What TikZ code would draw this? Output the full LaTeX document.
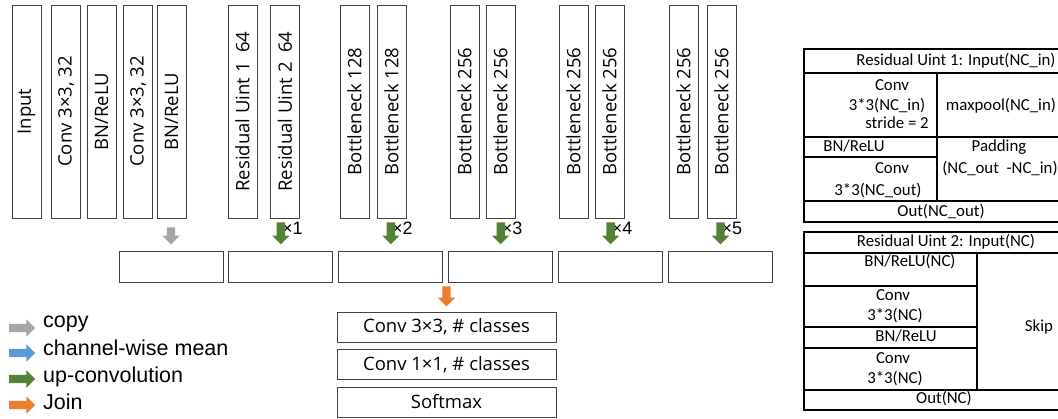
\documentclass[tikz,border=0pt]{standalone}
\usepackage{fontspec}
\setmainfont{Open Sans}
\newfontfamily\tabfont{Carlito}
\newfontfamily\lgdfont{Liberation Sans}
\usetikzlibrary{shapes.arrows,positioning,calc}
\definecolor{edge}{HTML}{404040}
\definecolor{cpgray}{HTML}{A6A6A6}
\definecolor{cwblue}{HTML}{5B9BD5}
\definecolor{upgreen}{HTML}{548235}
\definecolor{jnorange}{HTML}{ED7D31}
\tikzset{
  vbox/.style={rectangle,draw=edge,line width=0.9pt,fill=white,rotate=90,
               minimum width=213pt,minimum height=29pt,inner sep=0pt,
               font=\fontsize{18.5}{20}\selectfont},
  fbox/.style={rectangle,draw=edge,line width=0.9pt,
               minimum width=104pt,minimum height=31pt,inner sep=0pt},
  hbox/.style={rectangle,draw=edge,line width=0.9pt,
               minimum width=219pt,minimum height=30pt,inner sep=0pt,
               font=\fontsize{18.5}{20}\selectfont},
  blkarr/.style={single arrow,fill=#1,draw=none,inner xsep=0pt,inner ysep=4pt,
                 single arrow head extend=4.5pt},
  tline/.style={line width=1.3pt,draw=black},
  tcell/.style={font=\tabfont\fontsize{16.8}{19}\selectfont,inner sep=0pt,
                text height=11pt,text depth=3.5pt},
  lgd/.style={font=\lgdfont\fontsize{21.5}{24}\selectfont,anchor=base west,
              inner sep=0pt},
  rep/.style={font=\lgdfont\fontsize{18}{20}\selectfont,anchor=west,
              inner sep=0pt},
}

\begin{document}
\begin{tikzpicture}[x=1pt,y=1pt,node distance=6.6pt and 5pt]
  \useasboundingbox (0,0) rectangle (1058,418);
  \clip (0,0) rectangle (1058,418);

  % encoder columns
  \foreach \n/\x/\t in {inp/26.5/Input, cva/66/{Conv 3×3, 32}, bra/101.5/{BN/ReLU},
      cvb/138/{Conv 3×3, 32}, brb/171.5/{BN/ReLU},
      rua/242.5/{Residual Uint 1\ \ 64}, rub/285/{Residual Uint 2\ \ 64},
      bna/354.5/Bottleneck 128, bnb/391.5/Bottleneck 128,
      bnc/464.5/Bottleneck 256, bnd/500.5/Bottleneck 256,
      bne/573.5/Bottleneck 256, bnf/609.5/Bottleneck 256,
      bng/683.5/Bottleneck 256, bnh/721.5/Bottleneck 256}
    \node[vbox] (\n) at (\x,306.5) {\t};

  % feature boxes
  \node[fbox] (fb1) at (171,151.5) {};
  \node[fbox,right=of fb1] (fb2) {};
  \node[fbox,right=of fb2] (fb3) {};
  \node[fbox,right=of fb3] (fb4) {};
  \node[fbox,right=of fb4] (fb5) {};
  \node[fbox,right=of fb5] (fb6) {};

  \foreach \b/\k in {fb2/1,fb3/2,fb4/3,fb5/4,fb6/5}
    \node[rep] (rp\k) at ($(\b.north)+(1,22)$) {×\k};

  \node[blkarr=cpgray,minimum height=17pt,rotate=-90,anchor=tip] (cp1)
    at ([yshift=6pt]fb1.north) {};
  \foreach \b/\k in {fb2/1,fb3/2,fb4/3,fb5/4,fb6/5}
    \node[blkarr=upgreen,minimum height=22pt,rotate=-90,anchor=tip] (up\k)
      at ([yshift=6pt]\b.north) {};

  % head
  \node[hbox] (c33) at (446.5,91) {Conv 3×3, \# classes};
  \node[hbox,below=of c33] (c11) {Conv 1×1, \# classes};
  \node[hbox,below=of c11] (sm) {Softmax};
  \node[blkarr=jnorange,minimum height=20pt,rotate=-90,anchor=tip] (jn)
    at ([yshift=5pt]c33.north) {};

  % legend
  \foreach \c/\y/\b/\t [count=\i] in {cpgray/90/90/copy,
      cwblue/65/63/channel-wise mean, upgreen/39/35/up-convolution,
      jnorange/13/9/Join} {
    \node[blkarr=\c,minimum height=26pt] (lg\i) at (20,\y) {};
    \node[lgd] (lt\i) at (43,\b) {\t};
  }

  % residual unit 1
  \draw[tline] (804,196) rectangle (1085,369);
  \draw[tline] (804,345) -- (1085,345);
  \draw[tline] (804,281) -- (1085,281);
  \draw[tline] (804,217) -- (1085,217);
  \draw[tline] (804,261) -- (937,261);
  \draw[tline] (937,345) -- (937,217);
  \node[tcell] (ua0) at (956,356) {Residual Uint 1: Input(NC\_in)};
  \node[tcell] (ua1) at (892,331) {Conv};
  \node[tcell] (ua2) at (887,311) {3*3(NC\_in)};
  \node[tcell] (ua3) at (897,293) {stride = 2};
  \node[tcell] (ua4) at (1001,311) {maxpool(NC\_in)};
  \node[tcell] (ua5) at (854,270) {BN/ReLU};
  \node[tcell] (ua6) at (892,248) {Conv};
  \node[tcell] (ua7) at (878,226) {3*3(NC\_out)};
  \node[tcell] (ua8) at (999,270) {Padding};
  \node[tcell] (ua9) at (1000,248) {(NC\_out\ \ -NC\_in)};
  \node[tcell] (ua10) at (941,205) {Out(NC\_out)};

  % residual unit 2
  \draw[tline] (804,8) rectangle (1085,186);
  \draw[tline] (804,165) -- (1085,165);
  \draw[tline] (804,28) -- (1085,28);
  \foreach \y in {132,91,70}
    \draw[tline] (804,\y) -- (977,\y);
  \draw[tline] (977,165) -- (977,28);
  \node[tcell] (ub0) at (946,175) {Residual Uint 2: Input(NC)};
  \node[tcell] (ub1) at (910,155) {BN/ReLU(NC)};
  \node[tcell] (ub2) at (893,121) {Conv};
  \node[tcell] (ub3) at (895,101) {3*3(NC)};
  \node[tcell] (ub4) at (906,80) {BN/ReLU};
  \node[tcell] (ub5) at (893,58) {Conv};
  \node[tcell] (ub6) at (895,38) {3*3(NC)};
  \node[tcell] (ub7) at (1039,90) {Skip};
  \node[tcell] (ub8) at (944,18) {Out(NC)};
\end{tikzpicture}
\end{document}
